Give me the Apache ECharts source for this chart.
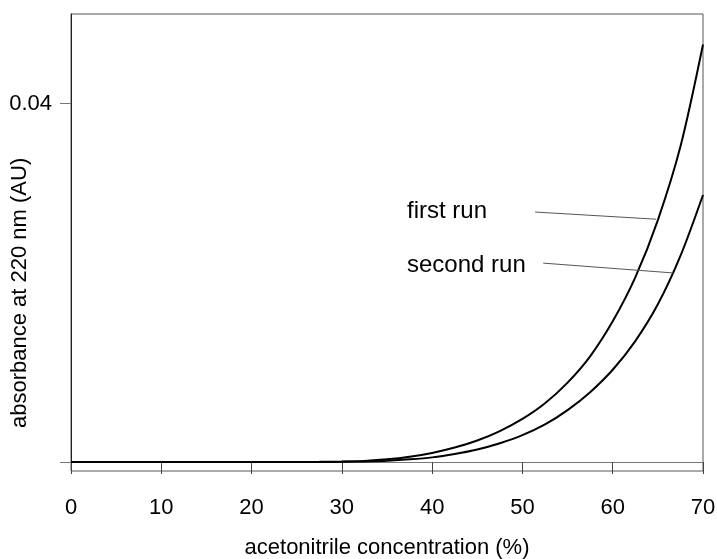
<!DOCTYPE html>
<html>
<head>
<meta charset="utf-8">
<script src="https://cdn.jsdelivr.net/npm/echarts@6/dist/echarts.min.js"></script>
<style>
  html, body { margin: 0; padding: 0; background: #fff; }
  #chart { width: 717px; height: 559px; }
</style>
</head>
<body>
<div id="chart"></div>
<script>
// Acetonitrile concentration (%) at which absorbance was sampled
const concentration = [0, 5, 10, 15, 20, 25, 27.5, 30, 32.5, 35, 37.5, 40, 42.5, 45, 47.5, 50, 52.5, 55, 57.5, 60, 62.5, 65, 67.5, 70];
// Absorbance at 220 nm (AU) for the two gradient runs
const firstRun  = [0, 0, 0, 0, 0, 0.00001, 0.00002, 0.00005, 0.00013, 0.0003, 0.00059, 0.00102, 0.00162, 0.00241, 0.00346, 0.00481, 0.00656, 0.00886, 0.0118, 0.0157, 0.0206, 0.0270, 0.0352, 0.0466];
const secondRun = [0, 0, 0, 0, 0, 0, 0.00001, 0.00003, 0.00007, 0.00015, 0.0003, 0.00052, 0.0009, 0.0014, 0.0021, 0.0030, 0.0042, 0.0058, 0.0078, 0.0103, 0.0135, 0.0176, 0.0230, 0.0298];
// Y-axis ticks: only 0.04 carries a label
const yTicks = [0, 0.04];
const yLabels = [0.04];
// Leader lines from the run labels to their curves: [x, y] in data units
const firstLeader  = [[51.4, 0.0279], [64.8, 0.0271]];
const secondLeader = [[52.3, 0.0222], [66.7, 0.0211]];

const font = 'Liberation Sans, Arial, sans-serif';
const pairs = (xs, ys) => xs.map((x, i) => [x, ys[i]]);

const chart = echarts.init(document.getElementById('chart'), null, { renderer: 'canvas' });

const leaderStyle = { color: '#555', width: 1, type: 'solid' };

chart.setOption({
  animation: false,
  backgroundColor: '#fff',
  grid: {
    left: 71, right: 14, top: 14, bottom: 88,
    outerBoundsMode: 'none', containLabel: false,
    show: true, borderColor: '#555', borderWidth: 1
  },
  xAxis: {
    type: 'value', min: 0, max: 70, interval: 10,
    name: 'acetonitrile concentration (%)',
    nameLocation: 'middle', nameGap: 66,
    nameTextStyle: { fontFamily: font, fontSize: 22, color: '#000' },
    axisLine: { show: true, lineStyle: { color: '#777', width: 1 } },
    axisTick: { show: true, inside: false, length: 12, lineStyle: { color: '#444', width: 1 } },
    axisLabel: { margin: 26, fontFamily: font, fontSize: 22, color: '#000' },
    splitLine: { show: false }
  },
  yAxis: {
    type: 'value', min: -0.001, max: 0.05,
    axisLine: { show: true, onZero: false, lineStyle: { color: '#222', width: 1 } },
    axisTick: { show: true, inside: false, length: 11, customValues: yTicks, lineStyle: { color: '#777', width: 1 } },
    axisLabel: { margin: 19, fontFamily: font, fontSize: 22, color: '#000', customValues: yLabels,
                 formatter: v => v.toFixed(2) },
    splitLine: { show: false }
  },
  graphic: [
    {
      type: 'text', x: 9, y: 428, rotation: Math.PI / 2,
      style: { text: 'absorbance at 220 nm (AU)', fontFamily: font, fontSize: 22, fill: '#000',
               textAlign: 'left', textVerticalAlign: 'top' }
    },
    {
      type: 'text', left: 407, top: 199,
      style: { text: 'first run', fontFamily: font, fontSize: 24, fill: '#000' }
    },
    {
      type: 'text', left: 407, top: 253,
      style: { text: 'second run', fontFamily: font, fontSize: 24, fill: '#000' }
    }
  ],
  series: [
    {
      name: 'first run', type: 'line', data: pairs(concentration, firstRun),
      smooth: 0.3, showSymbol: false,
      lineStyle: { color: '#000', width: 2 },
      markLine: {
        silent: true, symbol: 'none', label: { show: false },
        lineStyle: leaderStyle,
        data: [[{ coord: firstLeader[0] }, { coord: firstLeader[1] }]]
      }
    },
    {
      name: 'second run', type: 'line', data: pairs(concentration, secondRun),
      smooth: 0.3, showSymbol: false,
      lineStyle: { color: '#000', width: 2 },
      markLine: {
        silent: true, symbol: 'none', label: { show: false },
        lineStyle: leaderStyle,
        data: [[{ coord: secondLeader[0] }, { coord: secondLeader[1] }]]
      }
    }
  ]
});
</script>
</body>
</html>
